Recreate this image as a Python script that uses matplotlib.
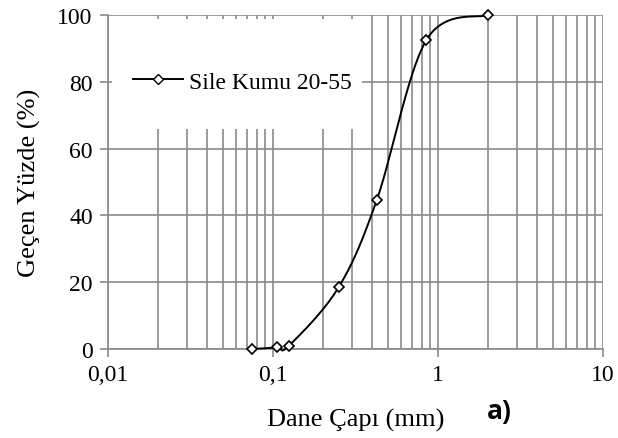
import numpy as np
import matplotlib.pyplot as plt
from matplotlib.patches import Rectangle
from matplotlib.ticker import FixedLocator, LogLocator, NullFormatter

# sieve analysis values
diameters = [0.075, 0.106, 0.125, 0.25, 0.425, 0.85, 2.0]
passing = [0.0, 0.5, 1.0, 18.5, 44.5, 92.5, 100.0]
series_name = 'Sile Kumu 20-55'
xtick_values = [0.01, 0.1, 1, 10]
xtick_labels = ['0,01', '0,1', '1', '10']
ytick_values = [0, 20, 40, 60, 80, 100]


def smooth_curve(xs, ys, n=40):
    # Excel-like smoothed line: Catmull-Rom bezier in (log x, y)
    u = np.log10(np.asarray(xs, float))
    v = np.asarray(ys, float)
    pts = np.column_stack([u, v])
    ext = np.vstack([pts[0], pts, pts[-1]])
    out = []
    t = np.linspace(0, 1, n)[:, None]
    for i in range(1, len(ext) - 2):
        p0, p1, p2, p3 = ext[i - 1], ext[i], ext[i + 1], ext[i + 2]
        c1 = p1 + (p2 - p0) / 6
        c2 = p2 - (p3 - p1) / 6
        seg = ((1 - t) ** 3) * p1 + 3 * ((1 - t) ** 2) * t * c1 + 3 * (1 - t) * t ** 2 * c2 + t ** 3 * p2
        out.append(seg)
    out = np.vstack(out)
    return 10 ** out[:, 0], out[:, 1]


plt.rcParams['font.family'] = ['Liberation Serif', 'DejaVu Serif']
grid_col = '#8a8a8a'

fig = plt.figure(figsize=(6.18, 4.39), dpi=100)
ax = fig.add_axes([0.1748, 0.2027, 0.8009, 0.7609])

ax.set_xscale('log')
ax.set_xlim(0.01, 10)
ax.set_ylim(0, 100)

ax.xaxis.set_major_locator(FixedLocator(xtick_values))
ax.set_xticklabels(xtick_labels)
ax.xaxis.set_minor_locator(LogLocator(base=10, subs=np.arange(2, 10)))
ax.xaxis.set_minor_formatter(NullFormatter())
ax.set_yticks(ytick_values)

ax.set_axisbelow(True)
ax.grid(True, which='both', axis='x', color=grid_col, lw=1.2)
ax.grid(True, which='major', axis='y', color=grid_col, lw=1.2)

for s in ['top', 'right']:
    ax.spines[s].set_visible(False)
for s in ['left', 'bottom']:
    ax.spines[s].set_color(grid_col)
    ax.spines[s].set_linewidth(1.2)

ax.tick_params(axis='both', which='major', length=6, width=1.2, color=grid_col,
               labelsize=17, pad=5)
ax.tick_params(axis='x', which='minor', length=0)

# white box behind the legend hides the grid there
ax.add_patch(Rectangle((0.008, 0.659), 0.505, 0.329, transform=ax.transAxes,
                       facecolor='white', edgecolor='none', zorder=1))

cx, cy = smooth_curve(diameters, passing)
ax.plot(cx, cy, color='black', lw=1.4, zorder=3, clip_on=False)
ax.plot(diameters, passing, linestyle='none', marker='D', markersize=5,
        markerfacecolor='white', markeredgecolor='black', markeredgewidth=1.2,
        zorder=4, clip_on=False)

ax.plot([], [], color='black', lw=1.4, marker='D', markersize=5,
        markerfacecolor='white', markeredgecolor='black', label=series_name)
ax.legend(loc='center left', bbox_to_anchor=(0.008, 0.80), frameon=False,
          fontsize=17, handlelength=2.1, handletextpad=0.25)

ax.set_xlabel('Dane Çapı (mm)', fontsize=19, labelpad=16)
ax.set_ylabel('Geçen Yüzde (%)', fontsize=19, labelpad=12)

fig.text(0.788, 0.045, 'a)', fontsize=19, fontweight='bold', family='Open Sans')

fig.savefig('out.png', dpi=100)
